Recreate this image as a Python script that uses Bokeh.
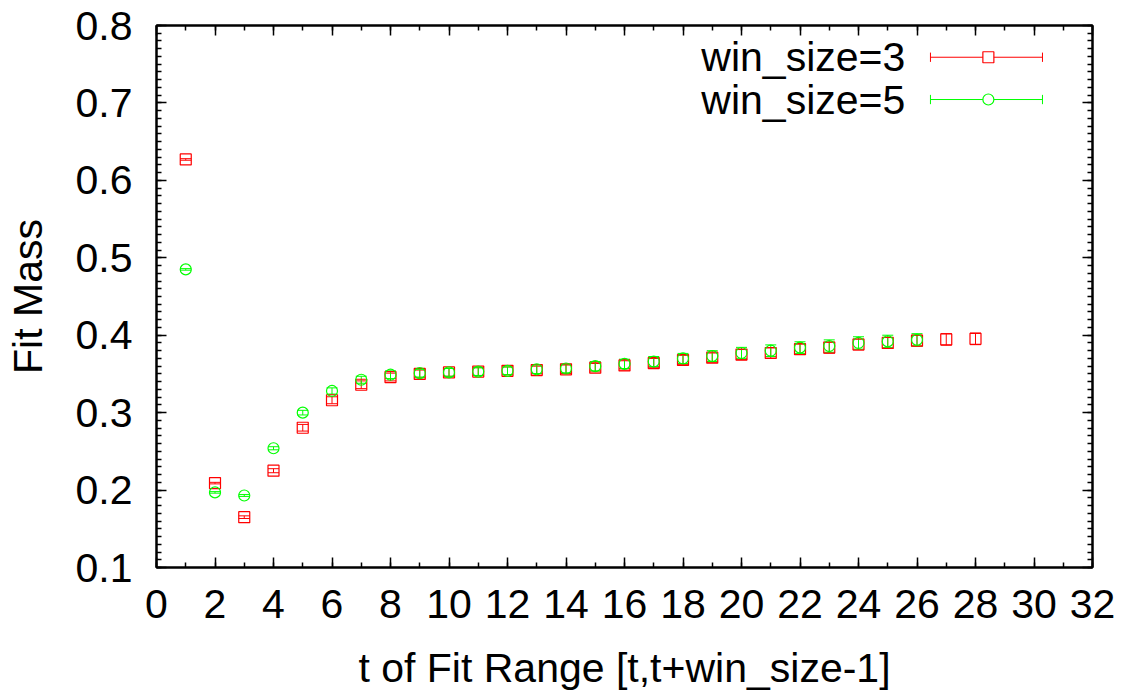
from bokeh.plotting import figure
from bokeh.models import (Range1d, LinearAxis, SingleIntervalTicker, Whisker, ColumnDataSource,
                          TeeHead, CustomLabelingPolicy)
from bokeh.embed import file_html
from bokeh.resources import INLINE
from bokeh.core.properties import value

# data
t3 = list(range(1, 29))
m3 = [0.627, 0.209, 0.165, 0.225, 0.2805, 0.316, 0.336, 0.346, 0.350, 0.352,
      0.353, 0.354, 0.355, 0.356, 0.358, 0.361, 0.364, 0.368, 0.371, 0.375,
      0.377, 0.382, 0.384, 0.388, 0.390, 0.393, 0.3946, 0.3953]
e3 = [0.001, 0.001, 0.0017, 0.0026, 0.0043, 0.0045, 0.005, 0.005, 0.005, 0.005,
      0.005, 0.005, 0.005, 0.0055, 0.0055, 0.006, 0.006, 0.006, 0.006, 0.0065,
      0.0065, 0.0065, 0.007, 0.007, 0.007, 0.007, 0.0075, 0.0075]
t5 = list(range(1, 27))
m5 = [0.485, 0.197, 0.193, 0.254, 0.300, 0.328, 0.3425, 0.349, 0.351, 0.352,
      0.353, 0.354, 0.356, 0.357, 0.360, 0.363, 0.366, 0.370, 0.373, 0.377,
      0.380, 0.384, 0.386, 0.390, 0.392, 0.394]
e5 = [0.001, 0.001, 0.0012, 0.002, 0.003, 0.004, 0.0045, 0.005, 0.005, 0.005,
      0.005, 0.005, 0.0055, 0.0055, 0.006, 0.006, 0.0065, 0.0065, 0.007, 0.0073,
      0.0075, 0.0075, 0.008, 0.008, 0.008, 0.008]
labels = ["win_size=3", "win_size=5"]
colors = ["#ff0000", "#00ff00"]

FONT = "Liberation Sans"
FS = "41px"

p = figure(width=1127, height=697, output_backend="svg", toolbar_location=None,
           x_range=Range1d(0, 32), y_range=Range1d(0.1, 0.8),
           min_border_left=156, min_border_right=35, min_border_top=25, min_border_bottom=130,
           x_axis_label="t of Fit Range [t,t+win_size-1]", y_axis_label="Fit Mass")
p.grid.visible = False
p.outline_line_color = "black"
p.outline_line_width = 2
p.background_fill_color = "white"
p.border_fill_color = "white"

p.xaxis.ticker = SingleIntervalTicker(interval=2, num_minor_ticks=2)
p.yaxis.ticker = SingleIntervalTicker(interval=0.1, num_minor_ticks=10)

def style(ax):
    ax.axis_line_color = "black"
    ax.axis_line_width = 2
    ax.major_tick_in = 10
    ax.major_tick_out = 0
    ax.minor_tick_in = 5
    ax.minor_tick_out = 0
    ax.major_tick_line_color = "black"
    ax.minor_tick_line_color = "black"
    ax.major_tick_line_width = 1.5
    ax.minor_tick_line_width = 1.5
    ax.major_label_text_font = FONT
    ax.major_label_text_color = "black"
    ax.major_label_text_font_size = FS
    ax.axis_label_text_font = FONT
    ax.axis_label_text_font_size = FS
    ax.axis_label_text_font_style = "normal"
    ax.axis_label_text_color = "black"

style(p.xaxis[0])
style(p.yaxis[0])
p.xaxis.major_label_standoff = 22
p.yaxis.major_label_standoff = 24
p.xaxis.axis_label_standoff = 24
p.yaxis.axis_label_standoff = 22

# mirror axes (ticks only, no labels)
no_labels = CustomLabelingPolicy(code="""
for (let i = 0; i < indices.size; i++) { indices.unset(i); }
return indices;
""")
top = LinearAxis(ticker=SingleIntervalTicker(interval=2, num_minor_ticks=2))
right = LinearAxis(ticker=SingleIntervalTicker(interval=0.1, num_minor_ticks=10))
for ax in (top, right):
    style(ax)
    ax.major_label_policy = no_labels
    ax.major_label_text_font_size = "1px"
    ax.major_label_standoff = 0
p.add_layout(top, "above")
p.add_layout(right, "right")

series = [(t3, m3, e3, "square"), (t5, m5, e5, "circle")]
for (t, m, e, mk), col in zip(series, colors):
    src = ColumnDataSource(dict(x=t, y=m,
                                lo=[a - b for a, b in zip(m, e)],
                                hi=[a + b for a, b in zip(m, e)]))
    w = Whisker(source=src, base="x", lower="lo", upper="hi", line_color=col, line_width=1,
                upper_head=TeeHead(size=11, line_color=col, line_width=1),
                lower_head=TeeHead(size=11, line_color=col, line_width=1))
    p.add_layout(w)
    p.scatter("x", "y", source=src, marker=mk, size=11, fill_color=None,
              line_color=col, line_width=1.2)

# legend (gnuplot style: text then sample)
leg_y = [0.759, 0.7044]
leg_src = ColumnDataSource(dict(tx=[25.6, 25.6], ty=leg_y, txt=labels))
p.text(x="tx", y="ty", text="txt", source=leg_src, text_font=value(FONT),
       text_font_size=FS, text_align="right", text_baseline="middle", text_color="black")
for i, (col, mk) in enumerate(zip(colors, ["square", "circle"])):
    y = leg_y[i]
    p.segment(x0=[26.46], y0=[y], x1=[30.29], y1=[y], line_color=col, line_width=1)
    p.segment(x0=[26.46, 30.29], y0=[y - 0.006, y - 0.006], x1=[26.46, 30.29], y1=[y + 0.006, y + 0.006],
              line_color=col, line_width=1)
    p.scatter([28.44], [y], marker=mk, size=11, fill_color="white", line_color=col, line_width=1.2)

open("out.html", "w").write(file_html(p, INLINE))
